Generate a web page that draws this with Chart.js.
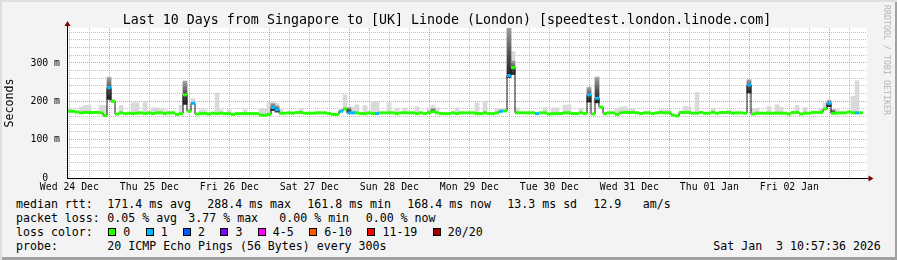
<!DOCTYPE html>
<html>
<head>
<meta charset="utf-8">
<script src="https://cdn.jsdelivr.net/npm/chart.js@4.4.1/dist/chart.umd.min.js"></script>
<style>
    html, body { margin: 0; padding: 0; }
    body { width: 897px; height: 260px; overflow: hidden; background: #f3f3f3; }
    #frame {
        position: relative; width: 897px; height: 260px;
        box-shadow: inset 2px 2px 0 #dedede, inset -2px -3px 0 #a2a2a2;
        font-family: "DejaVu Sans Mono", monospace; color: #000;
    }
    #chartCanvas { position: absolute; left: 0; top: 0; }
    .txt { position: absolute; white-space: pre; font-size: 11.6px; line-height: 14px; }
    #title { position: absolute; left: 0; top: 11.5px; width: 894px; text-align: center;
             font-size: 13.3px; line-height: 16px; white-space: pre; }
    #credit { position: absolute; left: 891.5px; top: 5px; transform-origin: 0 0; transform: rotate(90deg);
              font-size: 8.3px; line-height: 10px; color: #b4b4b4; white-space: pre; }
    #lossRow { position: absolute; left: 108.3px; top: 224.9px; display: flex; align-items: center;
               font-size: 11.6px; line-height: 14px; white-space: pre; }
    .box { width: 6px; height: 6px; border: 1px solid #000; margin-right: 7px; }
    .lbl { margin-right: 15.4px; }
</style>
</head>
<body>
<div id="frame">
    <canvas id="chartCanvas" width="897" height="195"></canvas>
    <div id="title">Last 10 Days from Singapore to [UK] Linode (London) [speedtest.london.linode.com]</div>
    <div id="credit">RRDTOOL / TOBI OETIKER</div>

    <div class="txt" style="left:16px; top:196.7px">median rtt:</div>
    <div class="txt" style="left:107.3px; top:196.7px">171.4 ms avg</div>
    <div class="txt" style="left:207.3px; top:196.7px">288.4 ms max</div>
    <div class="txt" style="left:307.3px; top:196.7px">161.8 ms min</div>
    <div class="txt" style="left:407.3px; top:196.7px">168.4 ms now</div>
    <div class="txt" style="left:507.3px; top:196.7px">13.3 ms sd</div>
    <div class="txt" style="left:593.3px; top:196.7px">12.9</div>
    <div class="txt" style="left:642.7px; top:196.7px">am/s</div>

    <div class="txt" style="left:16px; top:210.8px">packet loss:</div>
    <div class="txt" style="left:107.3px; top:210.8px">0.05 % avg</div>
    <div class="txt" style="left:188.3px; top:210.8px">3.77 % max</div>
    <div class="txt" style="left:279.3px; top:210.8px">0.00 % min</div>
    <div class="txt" style="left:365.7px; top:210.8px">0.00 % now</div>

    <div class="txt" style="left:16px; top:224.9px">loss color:</div>
    <div id="lossRow"></div>

    <div class="txt" style="left:16px; top:239px">probe:</div>
    <div class="txt" style="left:107.3px; top:239px">20 ICMP Echo Pings (56 Bytes) every 300s</div>
    <div class="txt" style="left:713.3px; top:239px">Sat Jan  3 10:57:36 2026</div>
</div>

<script>
// time axis: hours counted from Wed 24 Dec 00:00
const startHour = 11.3;
const spanHours = 240;
const stepHours = 1.2;   // one consolidated sample every 72 minutes

const dayLabels = ["Wed 24 Dec", "Thu 25 Dec", "Fri 26 Dec", "Sat 27 Dec", "Sun 28 Dec",
                   "Mon 29 Dec", "Tue 30 Dec", "Wed 31 Dec", "Thu 01 Jan", "Fri 02 Jan"];

const yMax = 391.3;      // ms
const yGridStep = 20;
const yLabelStep = 100;

// median rtt per sample (ms)
const median = [
    174, 174, 172, 170, 171, 171, 171, 171, 170, 163,
    236, 200, 167, 170, 168, 169, 168, 169, 170, 168,
    170, 168, 170, 170, 168, 170, 170, 166, 168, 217,
    174, 195, 167, 168, 168, 167, 169, 168, 169, 168,
    168, 166, 168, 168, 168, 168, 168, 168, 164, 164,
    166, 184, 178, 169, 169, 170, 169, 171, 171, 169,
    169, 169, 170, 170, 170, 168, 166, 166, 174, 180,
    170, 170, 170, 168, 168, 170, 168, 168, 170, 170,
    170, 170, 168, 170, 170, 170, 170, 168, 170, 168,
    171, 173, 170, 168, 168, 168, 170, 168, 170, 170,
    170, 170, 168, 168, 170, 168, 168, 170, 174, 175,
    267, 288, 170, 170, 170, 170, 170, 168, 170, 170,
    167, 168, 168, 168, 170, 170, 168, 168, 170, 168,
    217, 167, 208, 185, 168, 170, 170, 166, 170, 171,
    171, 171, 170, 168, 170, 170, 168, 170, 171, 170,
    170, 164, 162, 171, 171, 171, 169, 169, 171, 169,
    169, 171, 169, 171, 171, 171, 169, 170, 170, 169,
    243, 167, 169, 169, 169, 169, 169, 169, 169, 169,
    167, 171, 171, 167, 169, 169, 171, 171, 171, 180,
    195, 169, 169, 170, 170, 172, 170, 170, 170, null
];

// highest ping per sample (ms), null where the smoke hides under the median
const smokeHi = [
    183, null, null, 185, 189, 189, null, null, 189, 189,
    264, 206, null, 189, null, null, 196, 196, null, 200,
    null, 183, 183, 180, 178, null, null, null, 190, 254,
    180, 207, null, 178, 178, null, null, 222, 178, null,
    178, null, null, null, 178, null, null, null, 180, 180,
    196, 200, 195, 180, null, null, null, null, 181, null,
    null, null, null, null, null, null, null, null, 180, 217,
    185, 185, 191, null, 189, null, 200, 198, null, null,
    196, null, 182, null, 182, null, null, 186, null, null,
    183, 189, 183, null, null, null, null, 183, null, null,
    null, null, 196, null, 201, null, null, 181, 181, 181,
    392, 330, 183, null, null, null, null, null, null, 184,
    null, 183, 183, null, 190, 190, null, null, 182, null,
    237, null, 265, null, null, null, null, 181, 185, 186,
    180, 180, null, null, null, null, null, null, 178, 178,
    178, null, null, null, 187, 185, null, 223, null, null,
    null, 182, null, null, null, 178, null, null, null, null,
    256, 182, 182, null, null, 187, null, 191, 185, null,
    null, null, 189, null, 184, null, null, null, 180, 196,
    204, 178, 178, null, null, null, 213, 254, null, null
];

// dense part of the smoke around the spikes
const darkIndex = [10, 29, 51, 52, 70, 91, 110, 111, 130, 132, 170, 190, 191];
const darkLo    = [205, 192, 176, 172, 172, 172, 262, 270, 198, 196, 222, 186, 170];
const darkHi    = [262, 252, 194, 188, 183, 181, 392, 305, 236, 262, 256, 202, 178];

// samples that lost packets (lost pings out of 20)
const lossIndex = [10, 31, 51, 52, 68, 70, 71, 77, 108, 110, 117, 130, 132, 170, 190, 197];
const lossCount = [1, 1, 1, 1, 1, 1, 1, 1, 1, 1, 1, 1, 1, 1, 1, 1];

const lossLabels = ["0", "1", "2", "3", "4-5", "6-10", "11-19", "20/20"];
const lossColors = ["#26ff00", "#00b8ff", "#0059ff", "#7e00ff", "#ff00ff", "#ff5500", "#ff0000", "#a10000"];

const minorGrid = "rgba(130,130,130,0.5)";
const majorGrid = "rgba(220,60,60,0.55)";

/* ----------------------------------------
   LOSS LEGEND
---------------------------------------- */
const lossRow = document.getElementById("lossRow");
lossLabels.forEach((label, i) => {
    const box = document.createElement("span");
    box.className = "box";
    box.style.background = lossColors[i];
    const txt = document.createElement("span");
    txt.className = "lbl";
    txt.textContent = label;
    lossRow.appendChild(box);
    lossRow.appendChild(txt);
});

/* ----------------------------------------
   CHART
---------------------------------------- */
function colorForLoss(n) {
    if (n <= 3) return lossColors[n];
    if (n <= 5) return lossColors[4];
    if (n <= 10) return lossColors[5];
    if (n <= 19) return lossColors[6];
    return lossColors[7];
}

function lossAt(i) {
    const k = lossIndex.indexOf(i);
    return k < 0 ? 0 : lossCount[k];
}

// dense smoke fades from near black at the bottom to grey at the top
function denseSmoke(c) {
    const p = c.parsed;
    const ys = c.chart.scales.y;
    if (!p || !p._custom || !ys || !c.chart.chartArea) return "rgba(55,55,55,0.88)";
    const g = c.chart.ctx.createLinearGradient(0, ys.getPixelForValue(p._custom.min), 0, ys.getPixelForValue(p._custom.max));
    g.addColorStop(0, "rgba(20,20,20,0.95)");
    g.addColorStop(0.5, "rgba(70,70,70,0.9)");
    g.addColorStop(1, "rgba(150,150,150,0.85)");
    return g;
}

const sampleHours = median.map((v, i) => startHour + stepHours * (i + 0.5));

const lightSmoke = sampleHours.map((h, i) => ({
    x: h,
    y: (smokeHi[i] == null || median[i] == null) ? null : [median[i], smokeHi[i]]
}));

const darkSmoke = sampleHours.map((h, i) => {
    const k = darkIndex.indexOf(i);
    return { x: h, y: k < 0 ? null : [darkLo[k], darkHi[k]] };
});

const medianPoints = sampleHours.map((h, i) => ({ x: h, y: median[i] }));

const plotFrame = {
    id: "plotFrame",
    beforeDraw(chart) {
        const { ctx, chartArea: a } = chart;
        ctx.save();
        ctx.fillStyle = "#ffffff";
        ctx.fillRect(a.left, a.top, a.right - a.left, a.bottom - a.top);
        ctx.restore();
    },
    afterDatasetsDraw(chart) {
        const { ctx, chartArea: a } = chart;
        const ax = a.left + 0.5;
        const ay = a.bottom + 0.5;
        ctx.save();
        ctx.strokeStyle = "#000000";
        ctx.lineWidth = 1;
        ctx.beginPath();
        ctx.moveTo(ax, ay);
        ctx.lineTo(ax, a.top - 2);
        ctx.moveTo(a.left, ay);
        ctx.lineTo(a.right + 1.5, ay);
        ctx.stroke();

        // arrows
        ctx.fillStyle = "#7f0000";
        ctx.beginPath();
        ctx.moveTo(ax, a.top - 7);
        ctx.lineTo(ax - 3, a.top - 2);
        ctx.lineTo(ax + 3, a.top - 2);
        ctx.closePath();
        ctx.fill();
        ctx.beginPath();
        ctx.moveTo(a.right + 6.5, ay);
        ctx.lineTo(a.right + 1.5, ay - 3);
        ctx.lineTo(a.right + 1.5, ay + 3);
        ctx.closePath();
        ctx.fill();
        ctx.restore();
    }
};

Chart.defaults.font.family = "DejaVu Sans Mono";
Chart.defaults.color = "#000000";

const ctx = document.getElementById("chartCanvas").getContext("2d");

new Chart(ctx, {
    type: "bar",
    data: {
        datasets: [
            {
                label: "smoke",
                data: lightSmoke,
                backgroundColor: "#d9d9d9",
                borderWidth: 0,
                grouped: false,
                barPercentage: 1,
                categoryPercentage: 1,
                order: 4
            },
            {
                label: "dense smoke",
                data: darkSmoke,
                backgroundColor: denseSmoke,
                borderWidth: 0,
                grouped: false,
                barPercentage: 1,
                categoryPercentage: 1,
                order: 3
            },
            {
                type: "line",
                label: "median",
                data: medianPoints,
                stepped: "middle",
                borderColor: "#141414",
                borderWidth: 1,
                pointRadius: 0,
                spanGaps: false,
                order: 2
            },
            {
                type: "line",
                label: "median loss color",
                data: medianPoints,
                showLine: false,
                pointStyle: "line",
                pointRadius: c => c.chart.chartArea ? c.chart.chartArea.width / median.length / 2 : 2,
                pointBorderWidth: 3,
                pointBorderColor: c => colorForLoss(lossAt(c.dataIndex)),
                pointBackgroundColor: c => colorForLoss(lossAt(c.dataIndex)),
                order: 1
            }
        ]
    },
    options: {
        responsive: false,
        animation: false,
        devicePixelRatio: 1,
        events: [],
        layout: { padding: { left: 0, right: 30, top: 28, bottom: 0 } },
        plugins: {
            legend: { display: false },
            tooltip: { enabled: false },
            title: { display: false }
        },
        scales: {
            x: {
                type: "linear",
                min: startHour,
                max: startHour + spanHours,
                offset: false,
                afterBuildTicks: s => {
                    const t = [];
                    for (let h = Math.ceil(s.min / 6) * 6; h <= s.max; h += 6) t.push({ value: h });
                    s.ticks = t;
                },
                afterFit: s => { s.height = 17; },
                grid: {
                    offset: false,
                    drawTicks: false,
                    lineWidth: 1,
                    color: c => (c.tick && c.tick.value % 24 === 0) ? majorGrid : minorGrid
                },
                border: { display: false, dash: [1, 1] },
                ticks: {
                    autoSkip: false,
                    maxRotation: 0,
                    padding: 4,
                    font: { size: 9.8 },
                    callback: v => v % 24 === 12 ? dayLabels[Math.floor(v / 24)] : ""
                }
            },
            y: {
                min: 0,
                max: yMax,
                afterBuildTicks: s => {
                    const t = [];
                    for (let v = 0; v <= s.max; v += yGridStep) t.push({ value: v });
                    s.ticks = t;
                },
                afterFit: s => { s.width = 67; },
                grid: {
                    drawTicks: false,
                    lineWidth: 1,
                    color: c => (c.tick && c.tick.value % yLabelStep === 0) ? majorGrid : minorGrid
                },
                border: { display: false, dash: [1, 1] },
                ticks: {
                    autoSkip: false,
                    padding: 7,
                    font: { size: 9.8 },
                    callback: v => v % yLabelStep !== 0 ? "" : (v === 0 ? "0  " : v + " m")
                },
                title: {
                    display: true,
                    text: "Seconds",
                    font: { size: 11.6 },
                    padding: { top: 3.5, bottom: 0 }
                }
            }
        }
    },
    plugins: [plotFrame]
});
</script>
</body>
</html>
